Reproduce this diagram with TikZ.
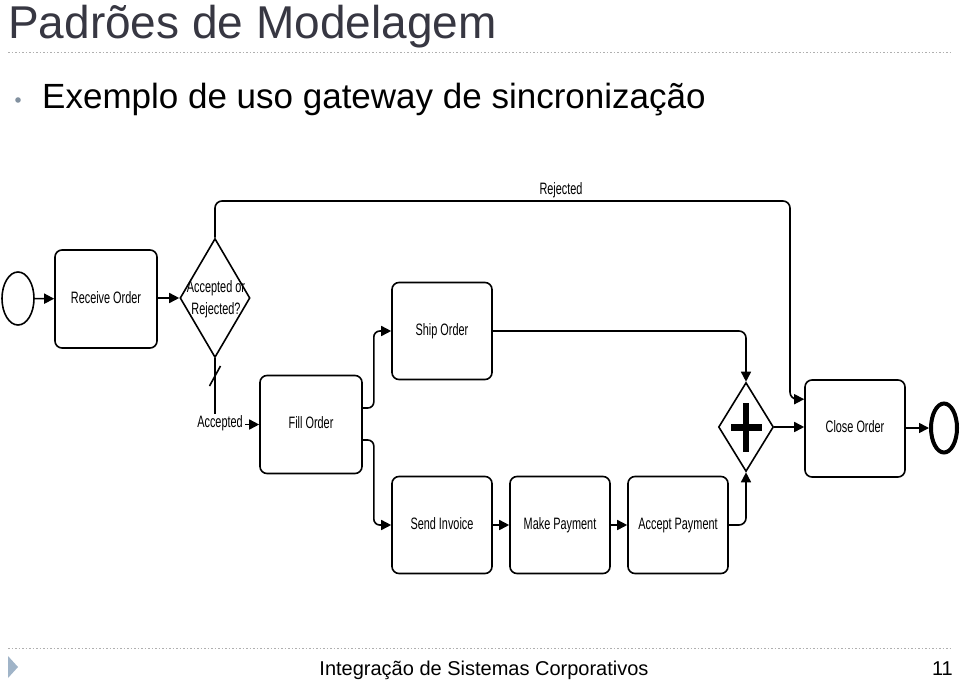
\documentclass[tikz,border=0pt]{standalone}
\usepackage{fontspec}
\setmainfont{Liberation Sans}
\newfontfamily\dgm[FakeStretch=0.66]{Liberation Sans}
\usetikzlibrary{shapes.geometric,arrows.meta,calc}
\definecolor{titlegray}{RGB}{55,55,66}
\definecolor{dotgray}{RGB}{175,175,175}
\definecolor{bulletgray}{RGB}{130,145,160}
\definecolor{tribl}{RGB}{160,180,200}
\tikzset{
  task/.style={draw=black,line width=1.6pt,rounded corners=7pt,minimum width=100pt,minimum height=97pt,inner sep=0pt,text height=11pt,text depth=3pt,font=\dgm\fontsize{16.5}{19}\selectfont},
  arr/.style={line width=1.6pt,-{Triangle[length=10pt,width=10pt]}},
  plain/.style={line width=1.6pt},
  lbl/.style={font=\dgm\fontsize{16.5}{19}\selectfont,inner sep=1pt},
  sep/.style={dotgray,line width=1pt,dash pattern=on 1.5pt off 2pt}
}
\begin{document}
\begin{tikzpicture}[x=1pt,y=-1pt]
\useasboundingbox (0,0) rectangle (960,680);
% slide header
\node[anchor=base west,inner sep=0pt,text=titlegray,font=\fontsize{46}{50}\selectfont] (title) at (8,38) {Padrões de Modelagem};
\draw[sep] (8,52) -- (950,52);
\fill[bulletgray] (18,100) circle (2.8);
\node[anchor=base west,inner sep=0pt,font=\fontsize{35}{40}\selectfont] (sub) at (42,108) {Exemplo de uso gateway de sincronização};
% footer
\draw[sep] (8,648) -- (950,648);
\fill[tribl] (8,656) -- (18,667) -- (8,678) -- cycle;
\node[anchor=base,inner sep=0pt,font=\fontsize{20}{24}\selectfont] (foot) at (484,675) {Integração de Sistemas Corporativos};
\node[anchor=base east,inner sep=0pt,font=\fontsize{20}{24}\selectfont] (pg) at (953,675) {11};
% diagram nodes
\node[draw,ellipse,line width=1.6pt,minimum width=32pt,minimum height=53pt,inner sep=0pt] (start) at (18,298.5) {};
\node[task,minimum width=102pt,minimum height=98pt] (receive) at (106,299) {Receive Order};
\node[draw,diamond,line width=1.6pt,minimum width=70pt,minimum height=119pt,inner sep=0pt] (gw1) at (215,298) {};
\node[lbl,align=center] (gw1txt) at (216,299.5) {Accepted or\\[3pt]Rejected?};
\node[task,minimum width=102pt,minimum height=98pt] (fill) at (311,424.5) {Fill Order};
\node[task] (ship) at (442,331) {Ship Order};
\node[task] (send) at (442,525) {Send Invoice};
\node[task] (make) at (560,525) {Make Payment};
\node[task] (accept) at (678,525) {Accept Payment};
\node[draw,diamond,line width=1.6pt,minimum width=55pt,minimum height=89pt,inner sep=0pt] (gw2) at (746,427) {};
\draw[line width=7pt] ($(gw2)+(-15,0)$) -- ($(gw2)+(16,0)$);
\draw[line width=6pt] ($(gw2)+(0,-24)$) -- ($(gw2)+(0,25)$);
\node[task] (close) at (855,428.5) {Close Order};
\node[draw,ellipse,line width=4pt,minimum width=26pt,minimum height=49pt,inner sep=0pt] (end) at (944,428) {};
% connectors
\draw[arr] (start) -- (receive);
\draw[arr] (receive.east |- gw1.west) -- (gw1.west);
\coordinate (rjcorner) at (790,201);
\coordinate (rjend) at ($(close.north west)+(0,20)$);
\draw[arr,rounded corners=7pt] (gw1.north) |- (rjcorner) |- (rjend);
\node[lbl] (rjlbl) at (561,190) {Rejected};
\draw[arr] (gw1.south) |- (fill.west);
\draw[plain] (209.5,386) -- (220.5,366);
\node[lbl,fill=white,inner sep=2pt,text height=11pt,text depth=3pt] (acclbl) at (220,423) {Accepted};
\draw[arr,rounded corners=6pt] ($(fill.east)+(0,-16.5)$) -- ++(11,0) |- (ship.west);
\draw[arr,rounded corners=6pt] ($(fill.east)+(0,15.5)$) -- ++(11,0) |- (send.west);
\draw[arr] (send) -- (make);
\draw[arr] (make) -- (accept);
\draw[arr,rounded corners=7pt] (accept.east) -| (gw2.south);
\draw[arr,rounded corners=7pt] (ship.east) -| (gw2.north);
\draw[arr] (gw2.east) -- (gw2.east -| close.west);
\draw[arr] (close.east |- end.west) -- (end.west);
\end{tikzpicture}
\end{document}
